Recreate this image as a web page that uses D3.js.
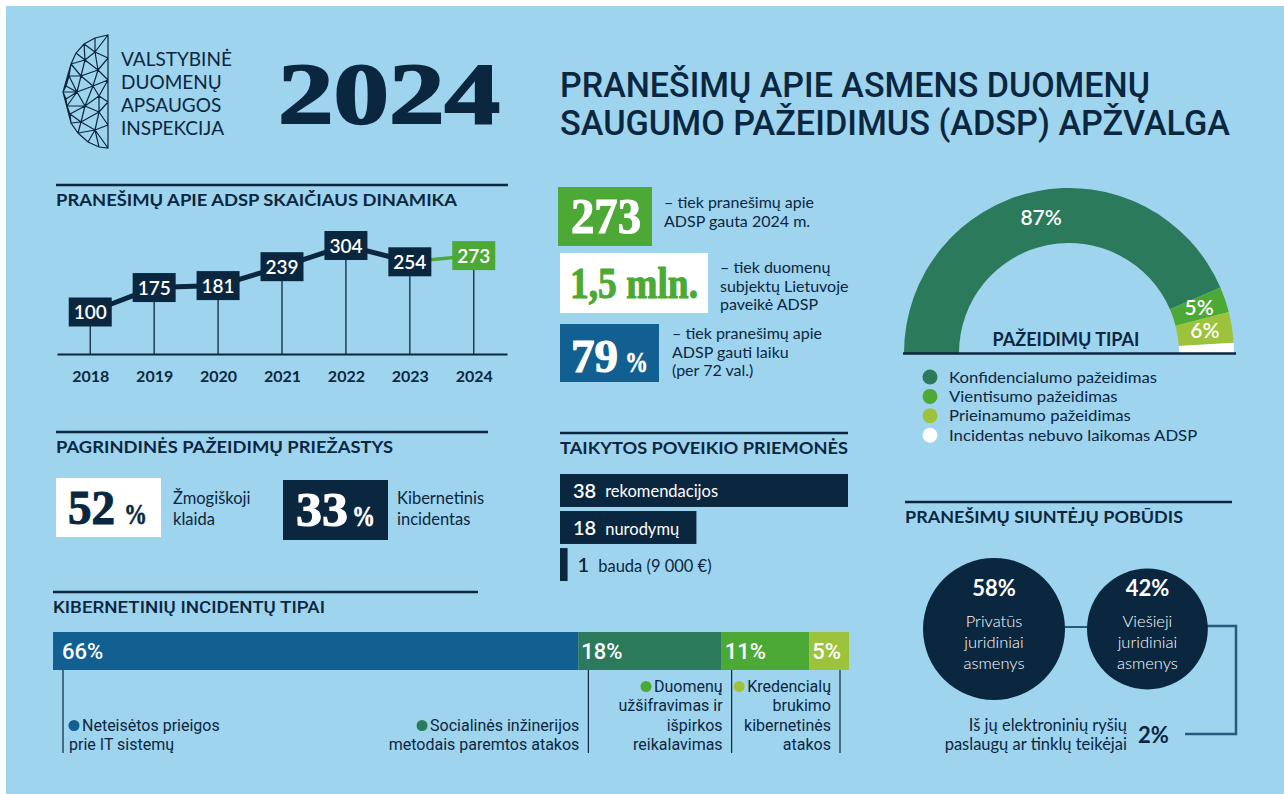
<!DOCTYPE html>
<html>
<head>
<meta charset="utf-8">
<script src="https://cdn.jsdelivr.net/npm/d3@7"></script>
<style>
  body { margin: 0; background: #fff; }
  svg { display: block; font-family: Lato, "Open Sans", sans-serif; fill: #0b2740; }
</style>
</head>
<body>
<svg id="chart"></svg>
<script>
// ---- data ----
const years = ["2018", "2019", "2020", "2021", "2022", "2023", "2024"];
const reportCounts = [100, 175, 181, 239, 304, 254, 273];

const kpiValues = ["273", "1,5 mln.", "79"];
const kpiCaptions = [
  ["– tiek pranešimų apie", "ADSP gauta 2024 m."],
  ["– tiek duomenų", "subjektų Lietuvoje", "paveikė ADSP"],
  ["– tiek pranešimų apie", "ADSP gauti laiku", "(per 72 val.)"]
];

const breachTypes = ["Konfidencialumo pažeidimas", "Vientisumo pažeidimas", "Prieinamumo pažeidimas", "Incidentas nebuvo laikomas ADSP"];
const breachShares = [87, 5, 6, 2];

const causeShares = [52, 33];
const causeLabels = [["Žmogiškoji", "klaida"], ["Kibernetinis", "incidentas"]];

const measureCounts = [38, 18, 1];
const measureLabels = ["rekomendacijos", "nurodymų", "bauda (9 000 €)"];

const cyberShares = [66, 18, 11, 5];
const cyberLabels = [
  ["Neteisėtos prieigos", "prie IT sistemų"],
  ["Socialinės inžinerijos", "metodais paremtos atakos"],
  ["Duomenų", "užšifravimas ir", "išpirkos", "reikalavimas"],
  ["Kredencialų", "brukimo", "kibernetinės", "atakos"]
];

const senderShares = [58, 42];
const senderLabels = [["Privatūs", "juridiniai", "asmenys"], ["Viešieji", "juridiniai", "asmenys"]];
const providerShare = 2;
const providerLabel = ["Iš jų elektroninių ryšių", "paslaugų ar tinklų teikėjai"];

// ---- colours ----
const bg = "#9fd4ef";
const navy = "#0b2740";
const green = "#4ca935";
const darkGreen = "#2b7a5b";
const lime = "#9cc33b";
const blue = "#125f91";
const serif = "'Liberation Serif', 'DejaVu Serif', serif";
const narrow = "Roboto, sans-serif";

const svg = d3.select("#chart").attr("width", 1284).attr("height", 794);
svg.append("rect").attr("width", 1284).attr("height", 794).attr("fill", "#fff");
svg.append("rect").attr("x", 6).attr("y", 6).attr("width", 1278).attr("height", 788).attr("fill", bg);

// ---- header: logo, year, title ----
const logoPts = [[108,35],[108,58],[108,80],[108,102],[108,125],[108,148],[95,38],[84,44],[76,53],[71,64],
  [69,76],[66,86],[63,92],[66,99],[67,106],[70,114],[71,123],[78,133],[88,142],[99,147],[95,52],[85,60],
  [98,70],[81,76],[93,86],[77,92],[99,112],[85,106],[81,122],[95,130],[99,96]];
svg.append("path")
  .attr("d", d3.Delaunay.from(logoPts).render())
  .attr("fill", "none").attr("stroke", navy).attr("stroke-width", 1.2);

["VALSTYBINĖ", "DUOMENŲ", "APSAUGOS", "INSPEKCIJA"].forEach((t, i) => {
  svg.append("text").attr("x", 121).attr("y", 66 + i * 23)
    .attr("font-size", 19).text(t);
});

svg.append("text").attr("x", 278).attr("y", 123)
  .attr("font-family", serif).attr("font-weight", 700).attr("font-size", 86)
  .attr("textLength", 222).attr("lengthAdjust", "spacingAndGlyphs")
  .attr("stroke", navy).attr("stroke-width", 2)
  .text("2024");

const titleLines = ["PRANEŠIMŲ APIE ASMENS DUOMENŲ", "SAUGUMO PAŽEIDIMUS (ADSP) APŽVALGA"];
const titleLens = [590, 670];
titleLines.forEach((t, i) => {
  svg.append("text").attr("x", 560).attr("y", 97 + i * 38)
    .attr("font-family", narrow).attr("font-weight", 500).attr("font-size", 35)
    .attr("textLength", titleLens[i]).attr("lengthAdjust", "spacingAndGlyphs")
    .text(t);
});

// section heading helper
function heading(x, ruleY, ruleW, text, textLen, family) {
  svg.append("line").attr("x1", x).attr("x2", x + ruleW).attr("y1", ruleY).attr("y2", ruleY)
    .attr("stroke", navy).attr("stroke-width", 2.5);
  svg.append("text").attr("x", x).attr("y", ruleY + 21)
    .attr("font-size", 17).attr("font-weight", family ? 500 : 700)
    .attr("font-family", family || null)
    .attr("textLength", textLen).attr("lengthAdjust", "spacingAndGlyphs")
    .text(text);
}

// ---- report dynamics line chart ----
heading(56, 185, 452, "PRANEŠIMŲ APIE ADSP SKAIČIAUS DINAMIKA", 401);

const x = d3.scalePoint().domain(years).range([57, 507]).padding(0.52);
const y = d3.scaleLinear().domain([100, 304]).range([312, 245.5]);
const axisY = 354;
const pts = years.map((yr, i) => ({ year: yr, v: reportCounts[i] }));

const gLine = svg.append("g");
gLine.append("g").attr("transform", `translate(0,${axisY})`)
  .call(d3.axisBottom(x).tickSize(0).tickPadding(17).tickSizeOuter(0))
  .attr("font-family", "Lato, sans-serif").attr("font-size", 16).attr("font-weight", 700)
  .call(g => g.select(".domain").attr("stroke", navy).attr("stroke-width", 2))
  .call(g => g.selectAll("text").attr("fill", navy));

gLine.selectAll(".stem").data(pts).enter().append("line")
  .attr("x1", d => x(d.year)).attr("x2", d => x(d.year))
  .attr("y1", d => y(d.v)).attr("y2", axisY)
  .attr("stroke", navy).attr("stroke-width", 1.3);

const line = d3.line().x(d => x(d.year)).y(d => y(d.v));
gLine.append("path").datum(pts.slice(0, 6)).attr("d", line)
  .attr("fill", "none").attr("stroke", navy).attr("stroke-width", 5).attr("stroke-linejoin", "round");
gLine.append("path").datum(pts.slice(5)).attr("d", line)
  .attr("fill", "none").attr("stroke", green).attr("stroke-width", 3.5);

const boxes = gLine.selectAll(".box").data(pts).enter().append("g")
  .attr("transform", d => `translate(${x(d.year)},${y(d.v)})`);
boxes.append("rect").attr("x", -21.5).attr("y", -14.5).attr("width", 43).attr("height", 29)
  .attr("fill", (d, i) => i === pts.length - 1 ? green : navy);
boxes.append("text").attr("text-anchor", "middle").attr("y", 7)
  .attr("font-size", 19).attr("font-weight", 600).attr("fill", "#fff")
  .text(d => d.v);

// ---- KPI boxes ----
const kpiLayout = [
  { x: 558, y: 187, w: 94, h: 59, fill: green, color: "#fff", tx: 571, ty: 233, len: 70, size: 50, capX: 664, capY: 208 },
  { x: 560, y: 253, w: 148, h: 60, fill: "#fff", color: green, tx: 570, ty: 298, len: 128, size: 44, capX: 720, capY: 273 },
  { x: 560, y: 324, w: 99, h: 58, fill: blue, color: "#fff", tx: 571, ty: 372, len: 47, size: 47, capX: 672, capY: 339, pctX: 625 }
];

function bigNumber(x0, y0, str, len, size, color, pctX) {
  svg.append("text").attr("x", x0).attr("y", y0)
    .attr("font-family", serif).attr("font-weight", 700).attr("font-size", size)
    .attr("textLength", len).attr("lengthAdjust", "spacingAndGlyphs")
    .attr("fill", color).attr("stroke", color).attr("stroke-width", 1.1).text(str);
  if (pctX != null) {
    svg.append("text").attr("x", pctX).attr("y", y0)
      .attr("font-family", serif).attr("font-weight", 700).attr("font-size", size * 0.62)
      .attr("textLength", 23).attr("lengthAdjust", "spacingAndGlyphs")
      .attr("fill", color).attr("stroke", color).attr("stroke-width", 0.6).text("%");
  }
}

kpiLayout.forEach((k, i) => {
  svg.append("rect").attr("x", k.x).attr("y", k.y).attr("width", k.w).attr("height", k.h).attr("fill", k.fill);
  bigNumber(k.tx, k.ty, kpiValues[i], k.len, k.size, k.color, k.pctX);
  kpiCaptions[i].forEach((t, j) => {
    svg.append("text").attr("x", k.capX).attr("y", k.capY + j * 18.7)
      .attr("font-size", 16).text(t);
  });
});

// ---- breach types half donut ----
const dcx = 1069, dcy = 353;
const pie = d3.pie().sort(null).startAngle(-Math.PI / 2).endAngle(Math.PI / 2);
const arc = d3.arc().innerRadius(110).outerRadius(165);
const breachColors = [darkGreen, green, lime, "#fff"];
const gD = svg.append("g").attr("transform", `translate(${dcx},${dcy})`);
const arcs = pie(breachShares);
gD.selectAll("path").data(arcs).enter().append("path")
  .attr("d", arc).attr("fill", (d, i) => breachColors[i]);
gD.selectAll(".lbl").data(arcs.slice(0, 3)).enter().append("text")
  .attr("transform", d => `translate(${arc.centroid(d)})`)
  .attr("text-anchor", "middle").attr("dy", 7)
  .attr("font-size", 21).attr("font-weight", 600).attr("fill", "#fff")
  .text(d => d.data + "%");
svg.append("line").attr("x1", 903).attr("x2", 1236).attr("y1", dcy + 0.5).attr("y2", dcy + 0.5)
  .attr("stroke", navy).attr("stroke-width", 2.5);
svg.append("text").attr("x", 1066).attr("y", 346).attr("text-anchor", "middle")
  .attr("font-size", 18).attr("font-weight", 700).text("PAŽEIDIMŲ TIPAI");

const legend = svg.append("g").selectAll("g").data(breachTypes).enter().append("g")
  .attr("transform", (d, i) => `translate(930,${377 + i * 19.4})`);
legend.append("circle").attr("r", 7.5).attr("fill", (d, i) => breachColors[i]);
legend.append("g").attr("transform", "translate(19,0) scale(1.08,1)")
  .append("text").attr("y", 5.5).attr("font-size", 15.5).text(d => d);

// ---- main causes ----
heading(56, 432, 432, "PAGRINDINĖS PAŽEIDIMŲ PRIEŽASTYS", 337);
const causeLayout = [
  { x: 56, y: 478, w: 105, h: 59, fill: "#fff", color: navy, tx: 68, ty: 524, len: 47, pctX: 124, capX: 173 },
  { x: 283, y: 480, w: 105, h: 60, fill: navy, color: "#fff", tx: 296, ty: 526, len: 52, pctX: 352, capX: 397 }
];
causeLayout.forEach((c, i) => {
  svg.append("rect").attr("x", c.x).attr("y", c.y).attr("width", c.w).attr("height", c.h).attr("fill", c.fill);
  bigNumber(c.tx, c.ty, String(causeShares[i]), c.len, 48, c.color, c.pctX);
  causeLabels[i].forEach((t, j) => {
    svg.append("text").attr("x", c.capX).attr("y", 504 + j * 20.5).attr("font-size", 16.5).text(t);
  });
});

// ---- measures bars ----
heading(560, 433, 288, "TAIKYTOS POVEIKIO PRIEMONĖS", 288);
const mx = d3.scaleLinear().domain([0, d3.max(measureCounts)]).range([560, 848]);
const my = d3.scaleBand().domain(measureLabels).range([474, 581]).paddingInner(0.11);
const gM = svg.append("g");
measureCounts.forEach((v, i) => {
  const lab = measureLabels[i];
  const by = my(lab), bh = my.bandwidth();
  gM.append("rect").attr("x", mx(0)).attr("y", by).attr("width", mx(v) - mx(0)).attr("height", bh).attr("fill", navy);
  const inside = mx(v) - mx(0) > 60;
  const nx = inside ? mx(0) + 13 : mx(v) + 10;
  const col = inside ? "#fff" : navy;
  const num = gM.append("text").attr("x", nx).attr("y", by + bh / 2 + 7.5)
    .attr("font-size", 20).attr("font-weight", 600).attr("fill", col).text(v);
  const w = num.node().getComputedTextLength();
  gM.append("text").attr("x", nx + w + 9).attr("y", by + bh / 2 + 7)
    .attr("font-size", 16.5).attr("fill", col).text(lab);
});

// ---- cyber incident types ----
heading(53, 592, 425, "KIBERNETINIŲ INCIDENTŲ TIPAI", 272, narrow);
const cyx = d3.scaleLinear().domain([0, 100]).range([53, 849]);
const cyberColors = [blue, darkGreen, green, lime];
const ends = Array.from(d3.cumsum(cyberShares));
const gC = svg.append("g");
const barTop = 632, barH = 38, lastBase = 750, lh = 19.5;
cyberShares.forEach((v, i) => {
  const s = ends[i] - v, e = ends[i];
  gC.append("rect").attr("x", cyx(s)).attr("y", barTop).attr("width", cyx(e) - cyx(s)).attr("height", barH)
    .attr("fill", cyberColors[i]);
  gC.append("text").attr("x", cyx(s) + (i === 0 ? 9 : 3)).attr("y", barTop + 27)
    .attr("font-family", narrow).attr("font-weight", 500).attr("font-size", 22)
    .attr("fill", "#fff").text(v + "%");

  const lx = i === cyberShares.length - 1 ? cyx(e) - 9 : cyx(s) + 10;
  gC.append("line").attr("x1", lx).attr("x2", lx).attr("y1", barTop + barH).attr("y2", 753)
    .attr("stroke", navy).attr("stroke-width", 1.2);

  const lines = cyberLabels[i];
  const first = lastBase - (lines.length - 1) * lh;
  lines.forEach((t, j) => {
    const tx = gC.append("text").attr("y", first + j * lh)
      .attr("font-family", narrow).attr("font-size", 16).text(t);
    if (i === 0) {
      tx.attr("x", j === 0 ? lx + 19 : lx + 6);
    } else {
      tx.attr("x", lx - 9).attr("text-anchor", "end");
    }
    if (j === 0) {
      const w = tx.node().getComputedTextLength();
      const dx = i === 0 ? lx + 11 : lx - 9 - w - 8;
      gC.append("circle").attr("cx", dx).attr("cy", first - 5).attr("r", 5.5).attr("fill", cyberColors[i]);
    }
  });
});

// ---- sender types ----
heading(905, 502, 327, "PRANEŠIMŲ SIUNTĖJŲ POBŪDIS", 278);
const r = d3.scaleSqrt().domain([0, d3.max(senderShares)]).range([0, 71]);
const scy = 629;
const cx1 = 994;
const cx2 = cx1 + r(senderShares[0]) + 22 + r(senderShares[1]);
const sx = [cx1, cx2];
const linkCol = "#245a7e";
svg.append("line").attr("x1", cx1).attr("x2", cx2).attr("y1", scy - 2).attr("y2", scy - 2)
  .attr("stroke", linkCol).attr("stroke-width", 2);
svg.append("path").attr("d", `M${cx2},${scy - 3}H1236V734H1185`)
  .attr("fill", "none").attr("stroke", linkCol).attr("stroke-width", 2.5);
senderShares.forEach((v, i) => {
  svg.append("circle").attr("cx", sx[i]).attr("cy", scy).attr("r", r(v)).attr("fill", navy);
  svg.append("text").attr("x", sx[i]).attr("y", scy - 33).attr("text-anchor", "middle")
    .attr("font-size", 22).attr("font-weight", 700).attr("fill", "#fff").text(v + "%");
  senderLabels[i].forEach((t, j) => {
    svg.append("text").attr("x", sx[i]).attr("y", scy - 2 + j * 21).attr("text-anchor", "middle")
      .attr("font-size", 16.5).attr("font-weight", 300).attr("fill", "#fff").text(t);
  });
});
providerLabel.forEach((t, j) => {
  svg.append("text").attr("x", 1127).attr("y", 731 + j * 19).attr("text-anchor", "end")
    .attr("font-size", 16.5).text(t);
});
svg.append("text").attr("x", 1138).attr("y", 743)
  .attr("font-size", 22).attr("font-weight", 700).text(providerShare + "%");
</script>
</body>
</html>
